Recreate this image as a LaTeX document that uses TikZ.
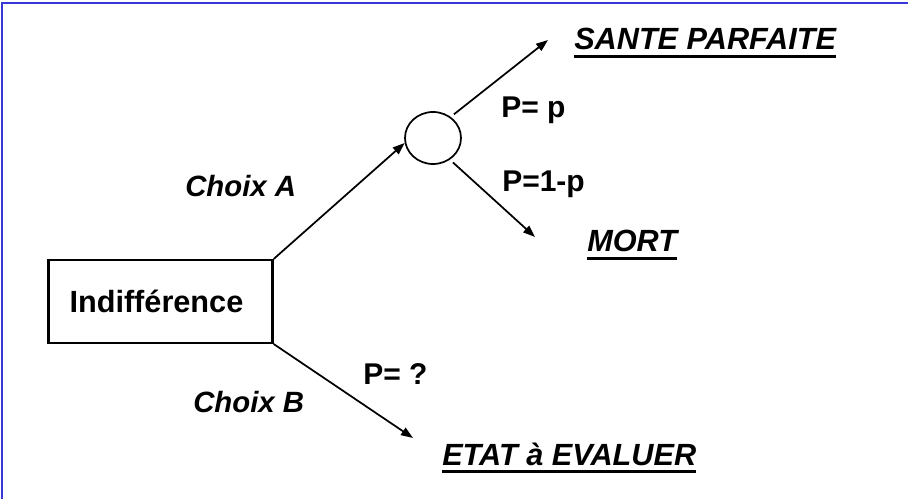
\documentclass[tikz,border=0pt]{standalone}
\usepackage{fontspec}
\setmainfont{Liberation Sans}
\usetikzlibrary{arrows.meta, shapes.geometric}

\definecolor{frameblue}{RGB}{55,55,215}

\begin{document}
\begin{tikzpicture}[
    x=0.75pt, y=-0.75pt,
    every node/.style={font=\fontsize{22.5}{27}\selectfont\bfseries},
    box/.style={rectangle, draw, line width=1.8pt, text width=136.5pt, inner xsep=15.75pt, align=left,
        minimum height=62pt, font=\fontsize{23}{28}\selectfont\bfseries},
    chance/.style={ellipse, draw, line width=1.3pt, minimum width=42pt, minimum height=39pt, inner sep=0pt},
    branch/.style={-{Triangle[length=9pt,width=6.5pt]}, line width=1.3pt},
    choice/.style={anchor=base west, inner sep=0pt, font=\fontsize{22}{26}\selectfont\bfseries\itshape},
    prob/.style={anchor=base west, inner sep=0pt},
    outcome/.style={anchor=base west, inner sep=0pt, font=\fontsize{23}{28}\selectfont\bfseries\itshape},
    underl/.style={line width=2.2pt}
]
\useasboundingbox (0,0) rectangle (908,499);

% frame
\draw[frameblue, line width=1.5pt] (2,499) -- (2,3) -- (908,3);

% decision and chance nodes
\node[box] (indiff) at (160.5,301.5) {Indifférence};
\node[chance] (chance) at (433,138) {};

% outcomes
\node[outcome] (sante) at (574,50) {SANTE PARFAITE};
\node[outcome] (mort) at (587,252) {MORT};
\node[outcome] (etat) at (442,465) {ETAT à EVALUER};
\foreach \o in {sante, mort, etat}
    \draw[underl] ([yshift=-4.6pt]\o.base west) -- ([yshift=-4.6pt]\o.base east);

% probabilities
\node[prob] (pp) at (501,118) {P= p};
\node[prob] (pq) at (502,192) {P=1-p};
\node[prob] (pb) at (363,385) {P= ?};

% choices
\node[choice] (choixA) at (185,197) {Choix A};
\node[choice] (choixB) at (193,412) {Choix B};

% arrow ends
\coordinate (toSante) at (548,40);
\coordinate (toMort) at (535,237);
\coordinate (toEtat) at (413,438);

% branches
\draw[branch] (indiff.north east) -- (chance.190);
\draw[branch, shorten <=3pt] (chance.50) -- (toSante);
\draw[branch, shorten <=3pt] (chance.-52) -- (toMort);
\draw[branch] (indiff.south east) -- (toEtat);

\end{tikzpicture}
\end{document}
